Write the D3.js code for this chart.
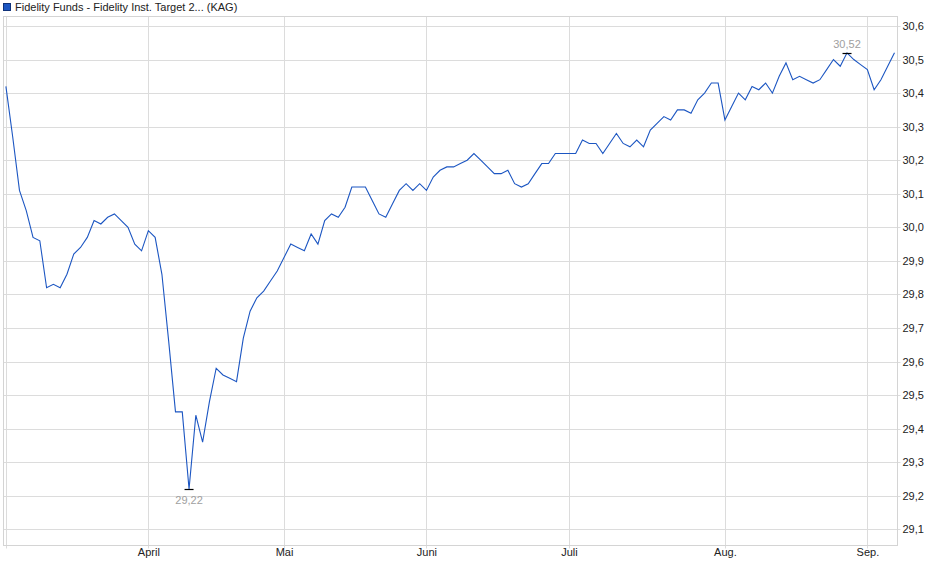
<!DOCTYPE html>
<html>
<head>
<meta charset="utf-8">
<script src="https://cdn.jsdelivr.net/npm/d3@7"></script>
<style>
  html, body { margin: 0; padding: 0; background: #fff; }
  svg { display: block; font-family: "Liberation Sans", Arial, sans-serif; }
</style>
</head>
<body>
<div id="chart"></div>
<script>
const seriesName = "Fidelity Funds - Fidelity Inst. Target 2... (KAG)";

// trading days shown (weekdays between first and last, minus exchange holidays)
const firstDay = "2025-03-03";
const lastDay = "2025-09-05";
const holidays = ["2025-04-18", "2025-04-21", "2025-05-01"];

// one closing price per trading day
const prices = [
  30.42, 30.27, 30.11, 30.05, 29.97, 29.96, 29.82, 29.83, 29.82, 29.86,
  29.92, 29.94, 29.97, 30.02, 30.01, 30.03, 30.04, 30.02, 30.00, 29.95,
  29.93, 29.99, 29.97, 29.86, 29.66, 29.45, 29.45, 29.22, 29.44, 29.36,
  29.48, 29.58, 29.56, 29.55, 29.54, 29.67, 29.75, 29.79, 29.81, 29.84,
  29.87, 29.91, 29.95, 29.94, 29.93, 29.98, 29.95, 30.02, 30.04, 30.03,
  30.06, 30.12, 30.12, 30.12, 30.08, 30.04, 30.03, 30.07, 30.11, 30.13,
  30.11, 30.13, 30.11, 30.15, 30.17, 30.18, 30.18, 30.19, 30.20, 30.22,
  30.20, 30.18, 30.16, 30.16, 30.17, 30.13, 30.12, 30.13, 30.16, 30.19,
  30.19, 30.22, 30.22, 30.22, 30.22, 30.26, 30.25, 30.25, 30.22, 30.25,
  30.28, 30.25, 30.24, 30.26, 30.24, 30.29, 30.31, 30.33, 30.32, 30.35,
  30.35, 30.34, 30.38, 30.40, 30.43, 30.43, 30.32, 30.36, 30.40, 30.38,
  30.42, 30.41, 30.43, 30.40, 30.45, 30.49, 30.44, 30.45, 30.44, 30.43,
  30.44, 30.47, 30.50, 30.48, 30.52, 30.50, 30.485, 30.47, 30.41, 30.44,
  30.48, 30.52
];

const yTicks = [29.1, 29.2, 29.3, 29.4, 29.5, 29.6, 29.7, 29.8, 29.9, 30.0, 30.1, 30.2, 30.3, 30.4, 30.5, 30.6];
const monthLabels = ["", "April", "Mai", "Juni", "Juli", "Aug.", "Sep."];

const width = 940;
const height = 579;
const plot = { left: 3.5, right: 897.5, top: 16.5, bottom: 545.5 };

const parseDay = d3.timeParse("%Y-%m-%d");
const dayKey = d3.timeFormat("%Y-%m-%d");
const tradingDays = d3.timeDay
  .range(parseDay(firstDay), d3.timeDay.offset(parseDay(lastDay), 1))
  .filter((d) => d.getDay() % 6 !== 0 && !holidays.includes(dayKey(d)));

const data = tradingDays.map((d, i) => ({ key: dayKey(d), date: d, value: prices[i] }));

const monthStarts = data
  .filter((d, i) => i === 0 || d.date.getMonth() !== data[i - 1].date.getMonth())
  .map((d) => d.key);

const commaFormat = d3.formatLocale({ decimal: ",", thousands: ".", grouping: [3], currency: ["", " €"] });
const fmt1 = commaFormat.format(".1f");
const fmt2 = commaFormat.format(".2f");

const x = d3.scalePoint()
  .domain(data.map((d) => d.key))
  .range([5.9, 894.5]);

const y = d3.scaleLinear()
  .domain([29.1, 30.6])
  .range([529.3, 26]);

const svg = d3.select("#chart")
  .append("svg")
  .attr("width", width)
  .attr("height", height);

// legend / title
svg.append("rect")
  .attr("x", 3.5)
  .attr("y", 3.5)
  .attr("width", 7)
  .attr("height", 7)
  .attr("fill", "#1c56c2")
  .attr("stroke", "#10327a");

svg.append("text")
  .attr("x", 15)
  .attr("y", 10.5)
  .attr("font-size", 11)
  .attr("fill", "#222")
  .text(seriesName);

// horizontal grid
svg.append("g")
  .selectAll("line")
  .data(yTicks)
  .join("line")
  .attr("x1", plot.left)
  .attr("x2", plot.right + 3)
  .attr("y1", (d) => Math.round(y(d)) + 0.5)
  .attr("y2", (d) => Math.round(y(d)) + 0.5)
  .attr("stroke", "#dcdcdc");

// vertical grid at month starts
svg.append("g")
  .selectAll("line")
  .data(monthStarts)
  .join("line")
  .attr("x1", (d) => Math.round(x(d)) + 0.5)
  .attr("x2", (d) => Math.round(x(d)) + 0.5)
  .attr("y1", plot.top)
  .attr("y2", plot.bottom + 3)
  .attr("stroke", "#dcdcdc");

// frame
svg.append("rect")
  .attr("x", plot.left)
  .attr("y", plot.top)
  .attr("width", plot.right - plot.left)
  .attr("height", plot.bottom - plot.top)
  .attr("fill", "none")
  .attr("stroke", "#d4d4d4");

// y axis labels on the right
const yAxis = svg.append("g")
  .attr("transform", `translate(${plot.right},0)`)
  .call(d3.axisRight(y).tickValues(yTicks).tickFormat(fmt1).tickSize(0).tickPadding(5));
yAxis.select(".domain").remove();
yAxis.selectAll("text").attr("font-size", 11).attr("fill", "#222").attr("font-family", null);

// x axis labels
const xAxis = svg.append("g")
  .attr("transform", `translate(0,${plot.bottom})`)
  .call(d3.axisBottom(x)
    .tickValues(monthStarts)
    .tickFormat((d, i) => monthLabels[i])
    .tickSize(0)
    .tickPadding(3));
xAxis.select(".domain").remove();
xAxis.selectAll("text").attr("font-size", 11).attr("fill", "#222").attr("font-family", null);

// price line
const line = d3.line()
  .x((d) => x(d.key))
  .y((d) => y(d.value));

svg.append("path")
  .datum(data)
  .attr("d", line)
  .attr("fill", "none")
  .attr("stroke", "#1c56c2")
  .attr("stroke-width", 1.1);

// min / max markers
const minPoint = data.reduce((a, b) => (b.value < a.value ? b : a));
const maxPoint = data.reduce((a, b) => (b.value > a.value ? b : a));

[
  { point: minPoint, below: true },
  { point: maxPoint, below: false }
].forEach(({ point, below }) => {
  const px = x(point.key);
  const py = Math.round(y(point.value)) + 0.5;
  svg.append("line")
    .attr("x1", px - 4.5)
    .attr("x2", px + 4.5)
    .attr("y1", py)
    .attr("y2", py)
    .attr("stroke", "#000")
    .attr("stroke-width", 1.2);
  svg.append("text")
    .attr("x", px)
    .attr("y", below ? py + 14 : py - 6)
    .attr("text-anchor", "middle")
    .attr("font-size", 11)
    .attr("fill", "#a0a0a0")
    .text(fmt2(point.value));
});
</script>
</body>
</html>
